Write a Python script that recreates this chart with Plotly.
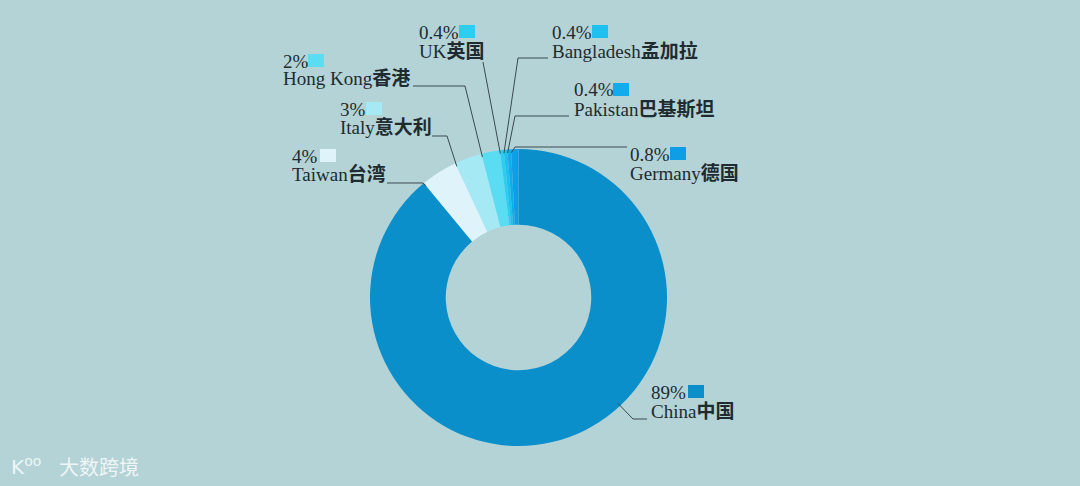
import math
import plotly.graph_objects as go

# ---------------- data ----------------
countries = ["China", "Taiwan", "Italy", "Hong Kong", "UK", "Bangladesh", "Pakistan", "Germany"]
names_cn = ["中国", "台湾", "意大利", "香港", "英国", "孟加拉", "巴基斯坦", "德国"]
shares = [89, 4, 3, 2, 0.4, 0.4, 0.4, 0.8]
pct_labels = ["89%", "4%", "3%", "2%", "0.4%", "0.4%", "0.4%", "0.8%"]

# ---------------- style / layout ----------------
colors = ["#0a8fcb", "#dff3fa", "#a5e9f5", "#5adcf3", "#2ccdf1", "#1ec0ef", "#12acec", "#0e9ee6"]
BG = "#b4d3d6"
TXT = "#1e2b30"
LINE = "#3a4a50"
FONT = "Liberation Serif, Noto Sans CJK SC, serif"

W, H = 1080, 486
CX, CY, R = 518.5, 297.5, 148.5
HOLE = 0.49
ANCHOR_R = 145

# label layout in pixels: text left x, pct-line centre y, name-line centre y, square x
label_pos = {
    "China": (649, 392, 411, 688),
    "Taiwan": (290, 156, 174, 320),
    "Italy": (338, 109, 127, 366),
    "Hong Kong": (281, 61, 79, 308),
    "UK": (417, 32, 51, 459),
    "Bangladesh": (550, 32, 51, 592),
    "Pakistan": (572, 90, 110, 613),
    "Germany": (628, 154, 173, 670),
}
# leader-line elbow points (pixels) before reaching the slice
leader_elbows = {
    "China": [(647, 419), (633, 419)],
    "Taiwan": [(387, 183), (423, 183)],
    "Italy": [(432, 136), (447, 136)],
    "Hong Kong": [(413, 86), (465, 86)],
    "UK": [(483, 62)],
    "Bangladesh": [(548, 58), (518, 58)],
    "Pakistan": [(569, 116), (515, 116)],
    "Germany": [(627, 147), (515, 147)],
}
# where along each slice the leader line touches (fraction of the slice)
anchor_frac = {"China": 0.427}


def px(x):
    return x / W


def py(y):
    return 1 - y / H


fig = go.Figure()
fig.add_trace(go.Pie(
    labels=countries,
    values=shares,
    hole=HOLE,
    sort=False,
    direction="clockwise",
    rotation=0,
    marker=dict(colors=colors, line=dict(width=0)),
    textinfo="none",
    hoverinfo="label+percent",
    showlegend=False,
    domain=dict(x=[px(CX - R), px(CX + R)], y=[py(CY + R), py(CY - R)]),
))

shapes = []
annotations = []
total = sum(shares)
cum = 0.0
for name, cn, val, pct, col in zip(countries, names_cn, shares, pct_labels, colors):
    f = anchor_frac.get(name, 0.0)
    theta = math.radians(360.0 * (cum + f * val) / total)
    ax = CX + ANCHOR_R * math.sin(theta)
    ay = CY - ANCHOR_R * math.cos(theta)
    cum += val

    pts = leader_elbows[name] + [(ax, ay)]
    path = "M " + " L ".join(f"{px(x):.5f},{py(y):.5f}" for x, y in pts)
    shapes.append(dict(type="path", xref="paper", yref="paper", path=path,
                       line=dict(color=LINE, width=1)))

    tx, pcy, ncy, sqx = label_pos[name]
    annotations.append(dict(xref="paper", yref="paper", x=px(tx), y=py(pcy),
                            xanchor="left", yanchor="middle", showarrow=False,
                            text=pct, font=dict(family=FONT, size=19, color=TXT)))
    annotations.append(dict(xref="paper", yref="paper", x=px(tx), y=py(ncy),
                            xanchor="left", yanchor="middle", showarrow=False,
                            text=f"{name}<b>{cn}</b>",
                            font=dict(family=FONT, size=19, color=TXT)))
    shapes.append(dict(type="rect", xref="paper", yref="paper",
                       x0=px(sqx), x1=px(sqx + 16), y0=py(pcy + 6), y1=py(pcy - 7),
                       fillcolor=col, line=dict(width=0)))

# watermark
annotations.append(dict(xref="paper", yref="paper", x=px(57), y=py(466),
                        xanchor="left", yanchor="middle", showarrow=False,
                        text="大数跨境",
                        font=dict(family="Noto Sans CJK SC", size=20,
                                  color="rgba(255,255,255,0.8)")))
annotations.append(dict(xref="paper", yref="paper", x=px(9), y=py(466),
                        xanchor="left", yanchor="middle", showarrow=False,
                        text="K<sup>oo</sup>",
                        font=dict(family="DejaVu Sans", size=20,
                                  color="rgba(255,255,255,0.8)")))

fig.update_layout(
    width=W, height=H,
    margin=dict(l=0, r=0, t=0, b=0),
    paper_bgcolor=BG,
    plot_bgcolor=BG,
    shapes=shapes,
    annotations=annotations,
)

fig.write_html(
    "out.html",
    config={"displayModeBar": False},
    post_script="document.body.style.margin='0';document.body.style.background='%s';" % BG,
)
